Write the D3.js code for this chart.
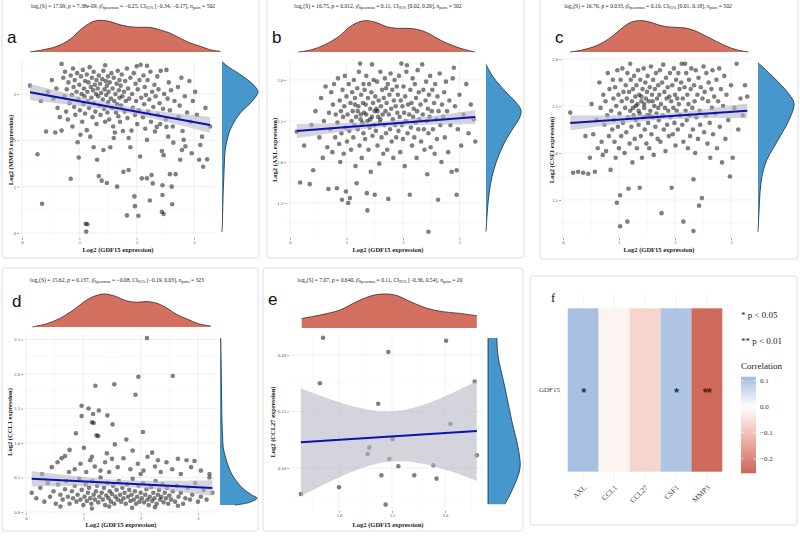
<!DOCTYPE html>
<html><head><meta charset="utf-8">
<script src="https://cdn.jsdelivr.net/npm/d3@7/dist/d3.min.js"></script>
<style>body{margin:0;background:#fff}svg{display:block}</style>
</head><body><svg id="c" width="800" height="537"></svg>
<script>
// ---------------- DATA ----------------
const geneY = ["MMP3","AXL","CSF1","CCL1","CCL27"];
const statS = ["17.09","16.75","16.76","15.62","7.07"];
const statP = ["7.38e-09","0.012","0.033","0.137","0.640"];
const statRho = ["\u22120.25","0.11","0.10","\u22120.08","0.11"];
const statCI = ["[\u22120.34, \u22120.17]","[0.02, 0.20]","[0.01, 0.18]","[\u22120.19, 0.03]","[\u22120.36, 0.54]"];
const nPairs = [502,502,502,323,20];
const fitIntercept = [3.071, 2.372, 2.315, 0.485, 0.119];
const fitSlope = [-0.225, 0.054, 0.041, -0.042, 0.006];
const xTickVals = [[0,1,2,3],[0,1,2,3],[0,1,2,3],[0,1,2,3],[1.0,1.5,2.0]];
const xTickFmt = ["d","d","d","d",".1f"];
const yTickVals = [[0,1,2,3],[1.5,2.0,2.5,3.0],[1.5,2.0,2.5,3.0],[0,0.5,1.0,1.5,2.0,2.5],[0.10,0.15,0.20]];
const yTickFmt = ["d",".1f",".1f",".1f",".2f"];

const ptsA = [[0.14,3.18],[0.27,1.70],[0.35,0.63],[0.33,2.85],[0.42,2.19],[0.45,3.05],
[0.52,3.30],[0.55,2.90],[0.58,2.17],[0.6,3.12],[0.62,2.70],[0.66,2.50],[0.69,2.21],[0.69,3.65],
[0.72,3.35],[0.74,2.95],[0.75,3.48],[0.77,2.62],[0.78,3.10],[0.8,2.45],[0.81,3.25],[0.83,2.80],[0.85,1.17],[0.85,3.40],[0.87,2.98],[0.88,2.30],[0.89,3.55],[0.9,3.15],
[0.91,2.72],[0.92,3.30],[0.93,2.55],[0.95,3.05],[0.96,3.45],[0.97,1.96],[0.98,2.88],[0.99,1.63],[1.0,3.20],[1.01,2.65],[1.02,2.12],[1.03,3.38],[1.04,3.00],[1.05,2.40],[1.06,3.52],[1.07,2.78],[1.08,3.12],[1.09,2.95],[1.1,3.28],[1.1,2.58],
[1.11,0.20],[1.12,0.03],[1.13,2.22],[1.13,3.42],[1.14,0.19],[1.14,3.05],[1.15,2.85],[1.16,3.25],[1.17,2.70],[1.18,3.58],[1.19,2.08],[1.2,3.15],[1.21,2.92],[1.22,3.35],[1.23,2.50],[1.24,3.08],[1.25,1.85],[1.25,3.48],[1.26,2.80],[1.27,3.20],[1.28,2.62],[1.29,3.00],[1.3,3.30],[1.3,2.35],
[1.31,1.58],[1.32,3.12],[1.33,2.95],[1.34,1.23],[1.34,3.40],[1.35,2.75],[1.36,3.22],[1.37,2.55],[1.38,3.02],[1.39,1.13],[1.4,3.32],[1.41,2.88],[1.42,1.79],[1.42,3.50],[1.43,2.68],[1.44,3.10],[1.45,2.40],[1.46,3.28],[1.47,2.98],[1.48,1.08],[1.48,3.18],[1.49,2.60],[1.5,3.38],[1.5,2.82],[1.45,3.62],
[1.51,3.05],[1.52,2.45],[1.53,3.25],[1.54,1.85],[1.55,2.90],[1.56,3.45],[1.57,2.70],[1.58,3.12],[1.59,2.30],[1.6,3.35],[1.61,2.85],[1.62,2.17],[1.63,3.00],[1.64,2.60],[1.65,3.22],[1.66,1.00],[1.66,2.78],[1.67,3.50],[1.68,2.52],[1.69,3.08],[1.7,2.92],[1.7,3.30],[1.6,2.05],
[1.71,2.40],[1.72,3.18],[1.73,2.75],[1.74,3.42],[1.75,2.95],[1.76,2.20],[1.77,1.32],[1.78,3.05],[1.79,2.62],[1.8,3.28],[1.81,2.85],[1.83,0.38],[1.83,3.55],[1.84,2.48],[1.85,3.12],[1.86,1.36],[1.86,2.05],[1.87,2.90],[1.89,1.85],[1.89,3.35],
[1.91,2.21],[1.92,3.00],[1.93,2.70],[1.95,3.45],[1.96,0.79],[1.97,0.58],[1.97,2.55],[1.98,3.22],[1.99,2.85],[2.0,3.60],[2.01,2.35],[2.02,3.10],[2.03,0.37],[2.04,2.65],[2.05,3.30],[2.06,1.65],[2.07,3.63],[2.08,2.92],[2.09,1.18],
[2.11,2.50],[2.12,3.40],[2.13,2.78],[2.14,3.15],[2.15,2.25],[2.16,2.98],[2.18,1.18],[2.18,2.01],[2.18,3.61],[2.19,3.30],[2.2,2.62],[2.22,2.88],[2.23,0.70],[2.24,3.48],[2.25,2.40],[2.26,1.25],[2.27,3.05],[2.28,1.07],[2.29,2.72],
[2.31,3.20],[2.32,2.19],[2.33,2.95],[2.35,2.29],[2.36,3.38],[2.37,2.55],[2.38,3.10],[2.4,2.80],[2.41,2.35],[2.42,3.50],[2.44,0.46],[2.44,1.77],[2.45,0.82],[2.45,1.03],[2.46,2.68],[2.47,0.41],[2.47,1.68],[2.48,3.00],
[2.51,2.45],[2.52,2.29],[2.52,3.52],[2.54,2.90],[2.55,2.08],[2.56,3.25],[2.58,1.27],[2.58,2.65],[2.6,3.08],[2.61,1.00],[2.62,0.62],[2.63,2.30],[2.64,1.95],[2.66,2.85],[2.68,1.27],
[2.72,3.15],[2.73,2.50],[2.75,2.75],[2.76,1.58],[2.78,3.35],[2.79,1.79],[2.8,2.20],[2.82,2.01],[2.84,2.95],[2.85,1.87],[2.88,2.60],
[2.92,3.28],[2.94,2.40],[2.96,1.72],[2.98,2.85],[3.02,3.05],[3.05,2.55],[3.09,1.58],
[3.11,1.90],[3.14,2.08],[3.16,1.43],[3.2,2.70],[3.23,1.59],[3.28,2.30]];

const ptsB = [[0.12,2.37],[0.18,1.75],[0.25,2.20],
[0.35,1.73],[0.38,2.45],[0.41,1.90],[0.45,2.62],
[0.52,2.30],[0.55,2.78],[0.58,2.05],[0.6,2.50],[0.63,2.92],[0.66,2.18],[0.68,1.67],[0.69,2.60],
[0.71,2.40],[0.73,2.85],[0.75,2.12],[0.76,2.70],[0.78,2.95],[0.8,2.30],[0.81,2.58],[0.83,1.68],[0.84,2.48],[0.85,3.02],[0.87,2.22],[0.88,2.75],[0.89,2.00],[0.9,2.62],
[0.91,2.35],[0.92,1.54],[0.93,2.88],[0.94,2.55],[0.95,2.10],[0.96,2.68],[0.97,3.05],[0.98,2.42],[0.99,1.64],[1.0,2.80],[1.01,2.25],[1.02,2.58],[1.03,1.50],[1.04,2.95],[1.05,2.38],[1.06,1.56],[1.07,2.72],[1.08,2.15],[1.09,2.50],[1.1,2.85],
[1.11,2.62],[1.12,2.30],[1.13,3.00],[1.14,2.45],[1.15,2.78],[1.16,1.95],[1.17,2.55],[1.18,1.74],[1.19,2.90],[1.2,2.40],[1.21,2.68],[1.22,3.10],[1.23,2.20],[1.24,3.20],[1.25,2.58],[1.26,2.82],[1.27,2.05],[1.28,2.48],[1.29,2.72],[1.3,2.95],[1.3,2.35],[1.2,2.62],[1.25,2.52],[1.15,2.70],
[1.31,2.60],[1.32,2.88],[1.33,2.28],[1.34,2.70],[1.35,3.05],[1.36,1.62],[1.37,1.41],[1.37,2.50],[1.38,2.78],[1.39,2.15],[1.4,2.95],[1.41,2.42],[1.42,2.65],[1.43,1.88],[1.44,2.85],[1.45,3.19],[1.45,2.55],[1.46,2.32],[1.47,2.72],[1.48,3.00],[1.49,2.45],[1.5,1.60],[1.5,2.62],[1.42,2.52],[1.35,2.58],
[1.51,2.80],[1.52,2.38],[1.53,2.65],[1.54,2.98],[1.55,2.20],[1.56,2.55],[1.57,2.75],[1.58,1.98],[1.59,2.48],[1.6,3.10],[1.61,2.68],[1.62,2.30],[1.63,2.88],[1.64,2.58],[1.65,2.10],[1.66,2.78],[1.67,2.45],[1.68,3.02],[1.69,2.62],[1.7,2.35],[1.7,2.90],[1.6,2.52],[1.55,2.62],
[1.71,2.72],[1.72,2.15],[1.73,2.95],[1.74,1.55],[1.75,2.58],[1.76,2.82],[1.77,2.40],[1.78,3.08],[1.79,2.65],[1.8,2.25],[1.81,2.88],[1.82,2.52],[1.83,2.05],[1.84,2.75],[1.85,3.00],[1.86,2.45],[1.87,2.68],[1.88,2.30],[1.89,2.92],[1.9,2.60],
[1.91,2.82],[1.92,2.38],[1.93,3.05],[1.94,2.55],[1.95,2.12],[1.96,2.75],[1.97,3.20],[1.98,2.45],[1.99,2.68],[2.0,2.28],[2.01,2.92],[2.02,2.60],[2.03,1.95],[2.04,2.80],[2.05,2.50],[2.06,3.10],[2.07,3.18],[2.08,2.35],[2.09,2.70],
[2.11,2.58],[2.12,1.60],[2.13,2.88],[2.14,2.42],[2.15,2.72],[2.16,2.20],[2.17,3.02],[2.18,2.55],[2.19,2.65],[2.2,2.30],[2.21,2.95],[2.22,2.48],[2.23,2.78],[2.24,2.05],[2.25,2.62],[2.26,3.12],[2.27,2.40],[2.28,2.85],[2.29,2.52],
[2.31,2.70],[2.32,2.25],[2.34,3.19],[2.35,2.58],[2.36,2.88],[2.37,2.40],[2.38,2.15],[2.4,2.75],[2.41,2.98],[2.42,2.50],[2.43,1.85],[2.44,2.65],[2.45,1.15],[2.45,2.35],[2.46,2.82],[2.47,2.55],[2.48,3.05],[2.49,2.18],
[2.51,2.62],[2.52,2.88],[2.53,2.40],[2.55,2.72],[2.56,2.10],[2.57,2.95],[2.59,2.52],[2.6,2.28],[2.61,2.80],[2.62,1.54],[2.63,2.62],[2.65,3.08],[2.66,2.45],[2.68,2.00],[2.69,2.70],
[2.71,2.55],[2.73,2.85],[2.74,2.30],[2.76,2.98],[2.78,2.62],[2.8,2.12],[2.82,2.75],[2.84,2.45],[2.86,1.88],[2.88,3.02],[2.9,3.15],
[2.92,2.68],[2.95,1.60],[2.95,1.90],[2.97,2.40],[3.0,2.82],[3.03,2.20],[3.07,2.58],
[3.12,2.95],[3.16,2.35],[3.2,2.70],[3.25,2.52],[3.28,2.25]];

const ptsC = [[0.13,2.43],[0.18,1.79],[0.27,1.80],
[0.36,1.79],[0.40,2.18],[0.45,1.78],[0.48,1.95],
[0.51,2.52],[0.54,2.20],[0.57,1.80],[0.6,2.35],[0.62,2.05],[0.65,2.75],[0.67,2.48],[0.69,2.12],
[0.71,1.98],[0.72,2.62],[0.74,2.30],[0.76,2.55],[0.77,2.02],[0.79,2.40],[0.8,2.85],[0.82,2.18],[0.83,2.68],[0.85,1.82],[0.86,2.45],[0.88,2.25],[0.89,2.78],[0.9,2.58],
[0.91,2.35],[0.92,2.12],[0.93,2.70],[0.94,1.95],[0.95,2.50],[0.96,1.47],[0.97,2.88],[0.98,2.28],[0.99,2.62],[1.0,2.05],[1.01,2.42],[1.02,1.22],[1.02,1.55],[1.03,2.78],[1.04,2.18],[1.05,2.55],[1.06,2.90],[1.07,2.32],[1.08,2.65],[1.1,2.00],
[1.11,2.48],[1.12,2.72],[1.13,2.22],[1.14,2.58],[1.15,1.27],[1.15,2.85],[1.16,2.38],[1.17,1.62],[1.18,2.65],[1.19,2.10],[1.2,2.95],[1.2,2.45],[1.21,2.78],[1.22,2.28],[1.23,2.55],[1.24,1.90],[1.25,2.68],[1.26,2.40],[1.27,2.82],[1.28,2.15],[1.29,2.60],[1.3,2.35],[1.3,2.50],[1.25,2.48],
[1.31,2.72],[1.32,2.05],[1.33,2.52],[1.34,2.88],[1.35,2.30],[1.36,2.62],[1.37,1.63],[1.37,2.42],[1.38,2.78],[1.39,2.18],[1.4,2.55],[1.41,1.95],[1.42,2.68],[1.43,2.38],[1.44,2.90],[1.45,2.48],[1.46,2.25],[1.47,2.75],[1.48,2.58],[1.49,2.10],[1.5,2.65],[1.5,2.40],[1.45,2.52],[1.4,2.60],[1.35,2.45],
[1.51,2.82],[1.52,2.32],[1.53,2.55],[1.54,2.05],[1.55,2.70],[1.56,2.45],[1.57,2.92],[1.58,2.20],[1.59,2.62],[1.6,2.38],[1.61,2.78],[1.62,1.98],[1.63,2.50],[1.64,2.68],[1.65,2.28],[1.66,2.85],[1.67,2.42],[1.68,2.58],[1.69,2.15],[1.7,2.72],[1.7,2.48],[1.6,2.55],[1.55,2.40],
[1.71,2.35],[1.72,2.62],[1.73,2.88],[1.74,2.12],[1.75,2.52],[1.76,1.36],[1.77,2.75],[1.78,2.40],[1.79,2.94],[1.8,2.25],[1.81,2.65],[1.82,2.48],[1.83,2.02],[1.84,2.80],[1.85,2.58],[1.86,2.30],[1.87,2.70],[1.88,2.45],[1.89,2.18],[1.9,2.60],
[1.91,2.85],[1.92,2.38],[1.93,2.55],[1.94,1.63],[1.95,2.72],[1.96,2.20],[1.97,2.48],[1.98,2.90],[1.99,2.32],[2.0,2.62],[2.01,2.08],[2.02,2.78],[2.03,2.45],[2.04,2.58],[2.05,2.25],[2.06,2.85],[2.07,2.52],[2.08,2.68],[2.09,2.40],
[2.11,2.75],[2.12,2.95],[2.13,2.30],[2.14,2.58],[2.15,1.27],[2.15,2.12],[2.17,2.70],[2.18,2.95],[2.19,2.45],[2.2,2.85],[2.21,2.35],[2.22,2.62],[2.23,2.05],[2.24,2.52],[2.25,2.78],[2.26,2.40],[2.27,2.18],[2.28,2.68],[2.29,2.90],
[2.31,2.48],[2.32,2.25],[2.33,1.17],[2.33,1.72],[2.34,2.72],[2.35,2.55],[2.36,2.00],[2.37,2.88],[2.38,2.38],[2.4,2.62],[2.41,2.15],[2.42,2.80],[2.43,1.44],[2.44,2.45],[2.45,2.30],[2.46,2.70],[2.48,1.52],[2.49,2.58],
[2.51,2.92],[2.52,2.22],[2.53,2.65],[2.55,2.40],[2.56,2.85],[2.58,2.10],[2.59,2.55],[2.6,2.75],[2.62,2.32],[2.63,1.95],[2.65,2.68],[2.66,2.48],[2.67,2.88],[2.68,2.20],[2.7,2.60],
[2.72,2.42],[2.74,2.78],[2.75,2.05],[2.77,2.55],[2.79,2.90],[2.8,2.28],[2.82,2.68],[2.84,1.90],[2.86,2.50],[2.88,2.82],[2.9,2.15],
[2.92,2.62],[2.95,2.35],[2.98,1.75],[3.0,2.72],[3.03,1.95],[3.06,2.48],[3.1,2.95],
[3.13,2.25],[3.17,2.58],[3.21,2.40],[3.25,2.72],[3.29,2.60]];

const ptsD = [[2.11,2.52],[1.96,1.96],[2.56,1.97],[1.21,1.83],[1.54,1.85],[1.91,1.70],[0.97,1.54],[1.09,1.50],[1.27,1.47],[0.97,1.39],[1.17,1.42],[1.42,1.40],[1.15,1.30],[1.18,1.29],[1.51,1.27],[0.87,1.14],[1.23,1.11],[1.26,1.10],[2.04,1.16],[0.76,0.90],[1.01,0.93],[1.86,0.89],[1.41,0.85],[0.68,0.81],[0.62,0.78],[2.2,0.86],[2.65,0.77],[2.94,0.74],[2.8,0.75],[1.55,0.98],[1.75,1.05],
[0.28,0.55],[0.45,0.65],[0.55,0.72],[0.85,0.62],[0.95,0.70],[1.05,0.58],[1.12,0.75],[1.2,0.66],[1.3,0.60],[1.38,0.72],[1.45,0.58],[1.6,0.65],[1.7,0.78],[1.82,0.62],[1.95,0.70],[2.05,0.60],[2.12,0.80],[2.25,0.66],[2.35,0.58],[2.45,0.72],[2.55,0.62],[2.7,0.55],[2.88,0.65],[3.05,0.60],[3.2,0.55],[1.15,0.80],[1.5,0.77],[2.0,0.55],[2.3,0.75],[0.75,0.58],
[0.1,0.28],[0.18,0.20],[0.25,0.35],[0.32,0.15],[0.38,0.42],[0.42,0.22],[0.48,0.30],[0.52,0.12],[0.56,0.40],[0.6,0.25],[0.64,0.18],[0.68,0.33],[0.7,0.45],[0.73,0.22],[0.76,0.12],[0.8,0.30],[0.82,0.20],[0.85,0.38],[0.88,0.15],[0.9,0.25],[0.93,0.48],[0.95,0.18],[0.97,0.32],[1.0,0.10],[1.02,0.22],[1.04,0.40],[1.06,0.16],[1.08,0.28],[1.1,0.35],[1.12,0.20],[1.14,0.12],[1.16,0.45],[1.18,0.25],[1.2,0.18],[1.22,0.30],[1.24,0.38],[1.26,0.14],[1.28,0.22],[1.3,0.50],[1.32,0.28],[1.34,0.18],[1.36,0.35],[1.38,0.10],[1.4,0.24],[1.42,0.42],[1.44,0.20],[1.46,0.30],[1.48,0.15],[1.5,0.26],[1.52,0.38],[1.54,0.12],[1.56,0.22],[1.58,0.32],[1.6,0.18],[1.62,0.45],[1.64,0.25],[1.66,0.15],[1.68,0.35],[1.7,0.20],[1.72,0.28],[1.74,0.12],[1.76,0.40],[1.78,0.22],[1.8,0.32],[1.82,0.16],[1.84,0.25],[1.86,0.48],[1.88,0.18],[1.9,0.30],[1.92,0.12],[1.94,0.22],[1.96,0.38],[1.98,0.15],[2.0,0.28],[2.02,0.20],[2.04,0.42],[2.06,0.14],[2.08,0.25],[2.1,0.33],[2.12,0.18],[2.14,0.10],[2.16,0.22],[2.18,0.36],[2.2,0.16],[2.22,0.28],[2.24,0.20],[2.26,0.45],[2.28,0.12],[2.3,0.25],[2.32,0.32],[2.34,0.18],[2.36,0.22],[2.38,0.40],[2.4,0.14],[2.42,0.28],[2.44,0.20],[2.46,0.35],[2.48,0.12],[2.5,0.24],[2.53,0.18],[2.56,0.30],[2.6,0.15],[2.63,0.38],[2.66,0.22],[2.7,0.28],[2.74,0.12],[2.78,0.20],[2.82,0.35],[2.86,0.18],[2.9,0.25],[2.95,0.42],[3.0,0.15],[3.05,0.22],[3.1,0.32],[3.15,0.18],[3.2,0.50],[3.25,0.28],[1.15,0.05],[1.45,0.08],[1.85,0.06],[2.25,0.07],[0.6,0.08],[2.65,0.09]];

const ptsE = [[0.85,0.2153],[2.01,0.2126],[1.465,0.2026],[0.82,0.175],[2.28,0.1765],[1.37,0.1568],[2.05,0.139],[1.506,0.1256],[1.286,0.118],[1.27,0.1124],[2.30,0.1112],[1.475,0.108],[1.56,0.1015],[1.89,0.1024],[1.40,0.0935],[1.71,0.0935],[1.92,0.0906],[1.0,0.083],[0.64,0.077],[1.44,0.0676]];

const topDens = [
 [[0.14,0],[0.37,0.07],[0.61,0.18],[0.84,0.40],[1.07,0.77],[1.24,0.95],[1.36,0.99],[1.54,0.95],[1.71,0.85],[1.88,0.79],[2.06,0.77],[2.23,0.77],[2.41,0.69],[2.58,0.59],[2.76,0.43],[2.93,0.28],[3.11,0.18],[3.28,0.07],[3.46,0.02]],
 [[0.15,0],[0.38,0.07],[0.62,0.23],[0.86,0.48],[1.06,0.79],[1.24,0.95],[1.36,0.98],[1.53,0.92],[1.71,0.79],[1.89,0.74],[2.07,0.74],[2.24,0.71],[2.42,0.61],[2.60,0.43],[2.77,0.28],[3.01,0.12],[3.27,0.0]],
 [[0.125,0],[0.36,0.07],[0.60,0.2],[0.84,0.44],[1.05,0.74],[1.20,0.92],[1.35,0.98],[1.52,0.95],[1.70,0.85],[1.85,0.79],[2.03,0.77],[2.21,0.74],[2.39,0.64],[2.57,0.48],[2.74,0.33],[2.92,0.18],[3.10,0.07],[3.31,0]],
 [[0.11,0],[0.36,0.1],[0.59,0.26],[0.83,0.52],[1.06,0.82],[1.24,0.96],[1.38,1.0],[1.56,0.93],[1.76,0.79],[1.94,0.75],[2.11,0.77],[2.28,0.72],[2.46,0.57],[2.63,0.38],[2.81,0.24],[3.01,0.1],[3.22,0.03]],
 [[0.648,0.28],[0.82,0.38],[1.01,0.53],[1.17,0.78],[1.32,0.96],[1.43,1.0],[1.54,0.96],[1.67,0.78],[1.83,0.58],[1.98,0.48],[2.14,0.43],[2.30,0.36]]
];
const rightDens = [
 [[3.70,0],[3.6,0.15],[3.45,0.45],[3.3,0.72],[3.15,0.93],[3.05,1.0],[2.9,0.9],[2.75,0.72],[2.6,0.52],[2.45,0.38],[2.3,0.27],[2.15,0.19],[2.0,0.14],[1.8,0.09],[1.6,0.07],[1.4,0.06],[1.2,0.05],[1.0,0.04],[0.8,0.03],[0.5,0.02],[0.2,0.01],[0.02,0.0]],
 [[3.19,0],[3.04,0.2],[2.84,0.6],[2.73,0.85],[2.63,1.0],[2.53,0.95],[2.43,0.8],[2.23,0.52],[2.02,0.31],[1.82,0.17],[1.62,0.09],[1.41,0.04],[1.15,0]],
 [[2.96,0],[2.81,0.42],[2.64,0.83],[2.53,1.0],[2.35,0.86],[2.14,0.56],[1.93,0.25],[1.75,0.11],[1.57,0.055],[1.39,0.03],[1.16,0]],
 [[2.52,0.02],[2.2,0.03],[1.8,0.04],[1.4,0.05],[1.1,0.07],[0.93,0.09],[0.72,0.19],[0.54,0.33],[0.35,0.6],[0.25,0.85],[0.2,1.0],[0.14,0.8],[0.1,0.4]],
 [[0.215,0.28],[0.20,0.31],[0.171,0.53],[0.141,0.75],[0.118,0.94],[0.10,1.0],[0.082,0.78],[0.068,0.53]]
];
const allPts = [ptsA, ptsB, ptsC, ptsD, ptsE];

const heatGenes = ["AXL","CCL1","CCL27","CSF1","MMP3"];
const heatRow = ["GDF15"];
const heatR = [0.11,-0.02,-0.07,0.10,-0.25];
const heatSig = ["*","","","*","**"];
const legendTicks = [0.1,0.0,-0.1,-0.2];
const legendSig = ["* p < 0.05","** p < 0.01"];

// ---------------- LAYOUT ----------------
const layout = [
 {letter:"a", xr:[22,194], yr:[233,94], px:[19,217], py:[60,238], topBase:52, topH:32, rightBase:222, rightW:36, header:[123,8], lp:[7,43], xTitle:[118,252], yTitle:[11,150], frame:[2,-3,257,261]},
 {letter:"b", xr:[290,459.5], yr:[203,80], px:[286,480], py:[60,238], topBase:52, topH:32, rightBase:486, rightW:35, header:[378,8], lp:[272,43], xTitle:[388,252], yTitle:[275,150], frame:[267,-3,257,261]},
 {letter:"c", xr:[563,731], yr:[153,106], px:[561,752], py:[58,238], topBase:52, topH:32, rightBase:758, rightW:36, header:[648,8], lp:[555,43], xTitle:[659,252], yTitle:[552,150], frame:[540,-3,258,262]},
 {letter:"d", xr:[26,198], yr:[512,339.5], px:[23,216], py:[334,513.5], topBase:327, topH:33, rightBase:220, rightW:37, header:[117,282], lp:[12,307], xTitle:[121,527], yTitle:[10,422], frame:[2,268,256,263]},
 {letter:"e", xr:[339,445], yr:[468,355], px:[289,482], py:[334,511], topBase:328, topH:34, rightBase:488, rightW:32, header:[380,282], lp:[268,305], xTitle:[388,527], yTitle:[273,422], frame:[263,268,260,263]}
];
const xDom = [[0,3],[0,3],[0,3],[0,3],[1,2]];
const yDom = [[0,3],[1.5,3.0],[2.0,2.5],[0,2.5],[0.1,0.2]];

const svg = d3.select('#c');
const serif = "'Liberation Serif','Times New Roman',serif";
const sans = "'Liberation Sans',Arial,sans-serif";
svg.append('rect').attr('width',800).attr('height',537).attr('fill','#fff');

function minorTicks(vals) {
  const step = vals.length>1 ? vals[1]-vals[0] : 1;
  const out = [];
  for (let v = vals[0]-step/2; v <= vals[vals.length-1]+step/2+1e-9; v += step) out.push(v);
  return out;
}

function drawHeader(k, x, y) {
  const t = svg.append('text').attr('x',x).attr('y',y).attr('text-anchor','middle')
    .style('font-family',serif).style('font-size','5.6px').attr('fill','#222');
  const parts = [['log',0],['e',1],['(S) = '+statS[k]+', ',0],['p',2],[' = '+statP[k]+', ',0],
    ['\u03C1\u0302',0],['Spearman',1],[' = '+statRho[k]+', CI',0],['95%',1],[' '+statCI[k]+', ',0],
    ['n',2],['pairs',1],[' = '+nPairs[k],0]];
  let sub = false;
  parts.forEach(([s,type]) => {
    const ts = t.append('tspan').text(s);
    if (type === 1) { ts.attr('dy', sub?0:1.4).style('font-size','4.1px'); sub = true; }
    else { if (sub) { ts.attr('dy',-1.4); sub = false; } if (type===2) ts.style('font-style','italic'); }
  });
}

function drawScatter(k) {
  const L = layout[k], pts = allPts[k];
  const xs = d3.scaleLinear().domain(xDom[k]).range(L.xr);
  const ys = d3.scaleLinear().domain(yDom[k]).range(L.yr);
  const g = svg.append('g');
  g.append('rect').attr('x',L.frame[0]).attr('y',L.frame[1]).attr('width',L.frame[2]).attr('height',L.frame[3])
    .attr('rx',3).attr('fill','none').attr('stroke','#dedede').attr('stroke-width',1);
  const inX = v => xs(v)>=L.px[0]-0.1 && xs(v)<=L.px[1]+0.1;
  const inY = v => ys(v)<=L.py[1]+0.1 && ys(v)>=L.py[0]-0.1;
  minorTicks(xTickVals[k]).filter(inX).forEach(v=>g.append('line').attr('x1',xs(v)).attr('x2',xs(v)).attr('y1',L.py[0]).attr('y2',L.py[1]).attr('stroke','#f2f2f2').attr('stroke-width',0.5));
  minorTicks(yTickVals[k]).filter(inY).forEach(v=>g.append('line').attr('y1',ys(v)).attr('y2',ys(v)).attr('x1',L.px[0]).attr('x2',L.px[1]).attr('stroke','#f2f2f2').attr('stroke-width',0.5));
  xTickVals[k].filter(inX).forEach(v=>g.append('line').attr('x1',xs(v)).attr('x2',xs(v)).attr('y1',L.py[0]).attr('y2',L.py[1]).attr('stroke','#e6e6e6').attr('stroke-width',0.6));
  yTickVals[k].filter(inY).forEach(v=>g.append('line').attr('y1',ys(v)).attr('y2',ys(v)).attr('x1',L.px[0]).attr('x2',L.px[1]).attr('stroke','#e6e6e6').attr('stroke-width',0.6));
  const ax = g.append('g').attr('transform',`translate(0,${L.py[1]})`)
    .call(d3.axisBottom(xs).tickValues(xTickVals[k]).tickFormat(d3.format(xTickFmt[k])).tickSize(2).tickPadding(1));
  const ay = g.append('g').attr('transform',`translate(${L.px[0]},0)`)
    .call(d3.axisLeft(ys).tickValues(yTickVals[k]).tickFormat(d3.format(yTickFmt[k])).tickSize(2).tickPadding(1));
  [ax,ay].forEach(a=>{a.select('.domain').remove();
    a.selectAll('line').attr('stroke','#555').attr('stroke-width',0.5);
    a.selectAll('text').style('font-family',serif).style('font-size','4.6px').attr('fill','#555');});
  g.append('g').selectAll('circle').data(pts).join('circle')
    .attr('cx',d=>xs(d[0])).attr('cy',d=>ys(d[1])).attr('r',2.3)
    .attr('fill','#000').attr('fill-opacity',0.5);
  const a0 = fitIntercept[k], b0 = fitSlope[k];
  const N = nPairs[k], m = pts.length;
  const xbar = d3.mean(pts,d=>d[0]), varx = d3.variance(pts,d=>d[0]);
  const s = Math.sqrt(d3.sum(pts,d=>Math.pow(d[1]-(a0+b0*d[0]),2))/(m-2));
  const t = N>30 ? 1.965 : 2.101;
  const [xmin,xmax] = d3.extent(pts,d=>d[0]);
  const grid = d3.range(0,41).map(i=>xmin+(xmax-xmin)*i/40);
  const half = x => t*s*Math.sqrt(1/N + (x-xbar)*(x-xbar)/((N-1)*varx));
  g.append('path').datum(grid).attr('d',d3.area().x(x=>xs(x)).y0(x=>ys(a0+b0*x-half(x))).y1(x=>ys(a0+b0*x+half(x))))
    .attr('fill','#b8b8c4').attr('fill-opacity',0.6);
  g.append('line').attr('x1',xs(xmin)).attr('y1',ys(a0+b0*xmin)).attr('x2',xs(xmax)).attr('y2',ys(a0+b0*xmax))
    .attr('stroke','#1010b0').attr('stroke-width',2);
  const td = topDens[k];
  g.append('path').datum(td).attr('d',d3.area().x(d=>xs(d[0])).y0(L.topBase).y1(d=>L.topBase-d[1]*L.topH).curve(d3.curveCatmullRom))
    .attr('fill','#d3705f');
  g.append('path').datum(td).attr('d',d3.line().x(d=>xs(d[0])).y(d=>L.topBase-d[1]*L.topH).curve(d3.curveCatmullRom))
    .attr('fill','none').attr('stroke','#3a2a28').attr('stroke-width',0.8);
  const rd = rightDens[k];
  g.append('path').datum(rd).attr('d',d3.area().y(d=>ys(d[0])).x0(L.rightBase).x1(d=>L.rightBase+d[1]*L.rightW).curve(d3.curveCatmullRom))
    .attr('fill','#4597cc');
  g.append('path').datum(rd).attr('d',d3.line().y(d=>ys(d[0])).x(d=>L.rightBase+d[1]*L.rightW).curve(d3.curveCatmullRom))
    .attr('fill','none').attr('stroke','#1d2b38').attr('stroke-width',0.8);
  if (k===4) {
    g.append('line').attr('x1',L.rightBase).attr('x2',L.rightBase).attr('y1',ys(rd[0][0])).attr('y2',ys(rd[rd.length-1][0])).attr('stroke','#1d2b38').attr('stroke-width',0.8);
  }
  g.append('text').attr('x',L.xTitle[0]).attr('y',L.xTitle[1]).attr('text-anchor','middle')
    .style('font-family',serif).style('font-weight','bold').style('font-size','6.5px').attr('fill','#222')
    .text('Log2 (GDF15 expression)');
  g.append('text').attr('transform',`translate(${L.yTitle[0]},${L.yTitle[1]}) rotate(-90)`).attr('text-anchor','middle')
    .attr('dy','0.35em').style('font-family',serif).style('font-weight','bold').style('font-size','6.5px').attr('fill','#222')
    .text(`Log2 (${geneY[k]} expression)`);
  g.append('text').attr('x',L.lp[0]).attr('y',L.lp[1]).style('font-family',sans).style('font-size','17px').attr('fill','#111').text(L.letter);
  drawHeader(k, L.header[0], L.header[1]);
}
for (let k=0;k<5;k++) drawScatter(k);

// ---------------- PANEL F ----------------
(function(){
  const g = svg.append('g');
  g.append('rect').attr('x',530).attr('y',276).attr('width',267).attr('height',249).attr('rx',3)
    .attr('fill','none').attr('stroke','#dedede');
  const xb = d3.scaleBand().domain(heatGenes).range([567.7,722.3]);
  const yb = d3.scaleBand().domain(heatRow).range([308.3,471.7]);
  const col = d3.scaleLinear().domain([-0.256,0,0.115]).range(['#cc6658','#ffffff','#a3bcdf']).interpolate(d3.interpolateLab);
  heatGenes.forEach(gn=>g.append('line').attr('x1',xb(gn)+xb.bandwidth()/2).attr('x2',xb(gn)+xb.bandwidth()/2).attr('y1',294).attr('y2',481).attr('stroke','#ebebeb').attr('stroke-width',0.6));
  g.append('line').attr('x1',562).attr('x2',728).attr('y1',yb('GDF15')+yb.bandwidth()/2).attr('y2',yb('GDF15')+yb.bandwidth()/2).attr('stroke','#ebebeb').attr('stroke-width',0.6);
  g.selectAll('rect.cell').data(heatGenes).join('rect').attr('class','cell')
    .attr('x',d=>xb(d)).attr('y',yb('GDF15')).attr('width',xb.bandwidth()).attr('height',yb.bandwidth())
    .attr('fill',(d,i)=>col(heatR[i]));
  g.selectAll('text.sig').data(heatGenes).join('text').attr('class','sig')
    .attr('x',d=>xb(d)+xb.bandwidth()/2).attr('y',yb('GDF15')+yb.bandwidth()/2+7).attr('text-anchor','middle')
    .style('font-family',sans).style('font-size','13px').style('font-weight','bold').attr('fill',(d,i)=>heatR[i]>0?'#1e3558':'#5a1c18')
    .style('letter-spacing','-1px').text((d,i)=>heatSig[i]);
  g.append('text').attr('x',560).attr('y',yb('GDF15')+yb.bandwidth()/2).attr('dy','0.35em').attr('text-anchor','end')
    .style('font-family',serif).style('font-size','7px').attr('fill','#444').text('GDF15');
  heatGenes.forEach(gn=>{
    const cx = xb(gn)+xb.bandwidth()/2+3.5;
    g.append('text').attr('transform',`translate(${cx},488) rotate(-45)`).attr('text-anchor','end')
      .style('font-family',serif).style('font-size','7.5px').attr('fill','#444').text(gn);
  });
  g.append('text').attr('x',551).attr('y',302).style('font-family',serif).style('font-size','13px').attr('fill','#111').text('f');
  legendSig.forEach((s,i)=>g.append('text').attr('x',741).attr('y',318+i*26).style('font-family',serif).style('font-size','9px').attr('fill','#222').text(s));
  g.append('text').attr('x',741).attr('y',369).style('font-family',serif).style('font-size','9px').attr('fill','#222').text('Correlation');
  const ly = d3.scaleLinear().domain([0.115,-0.256]).range([376.7,473.3]);
  const defs = svg.append('defs');
  const lg = defs.append('linearGradient').attr('id','cbar').attr('x1',0).attr('x2',0).attr('y1',0).attr('y2',1);
  d3.range(0,11).forEach(i=>{const v = 0.115 + (-0.256-0.115)*i/10; lg.append('stop').attr('offset',(i*10)+'%').attr('stop-color',col(v));});
  g.append('rect').attr('x',741).attr('y',ly(0.115)).attr('width',15).attr('height',ly(-0.256)-ly(0.115)).attr('fill','url(#cbar)');
  legendTicks.forEach(v=>{
    g.append('line').attr('x1',741).attr('x2',743.5).attr('y1',ly(v)).attr('y2',ly(v)).attr('stroke','#fff').attr('stroke-width',0.7);
    g.append('line').attr('x1',753.5).attr('x2',756).attr('y1',ly(v)).attr('y2',ly(v)).attr('stroke','#fff').attr('stroke-width',0.7);
    g.append('text').attr('x',760).attr('y',ly(v)).attr('dy','0.35em').style('font-family',serif).style('font-size','7px').attr('fill','#333')
      .text(d3.format('.1f')(v).replace('-','\u2212'));
  });
})();
</script></body></html>
